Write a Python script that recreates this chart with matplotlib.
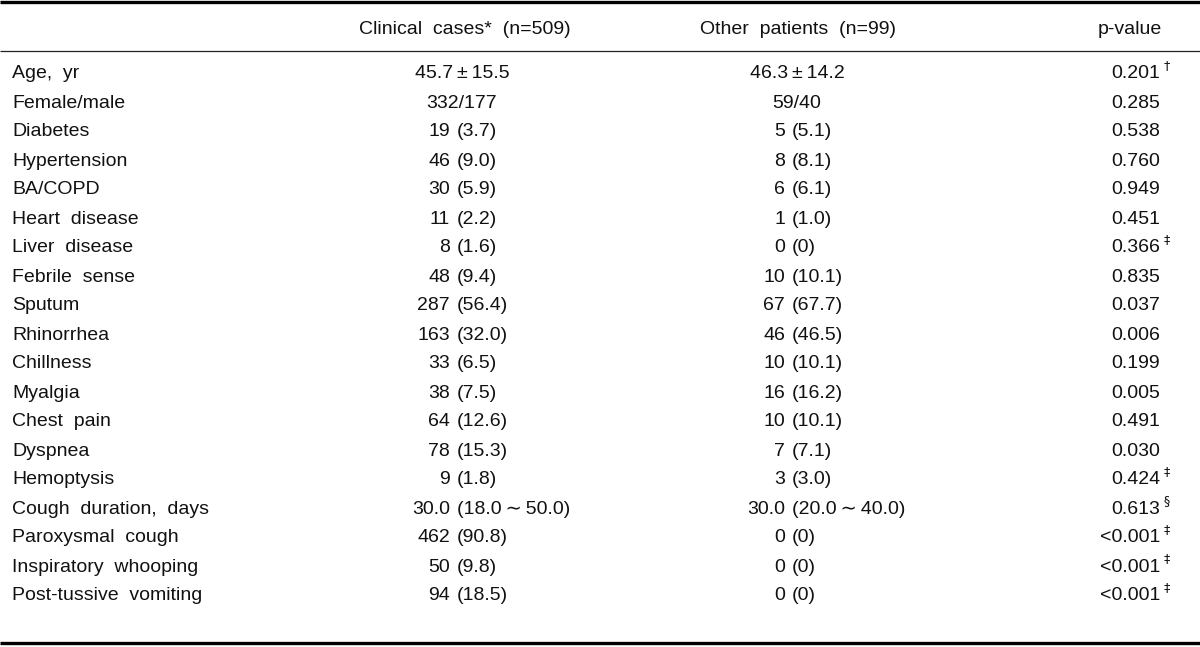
import matplotlib
matplotlib.use('Agg')
from matplotlib import pyplot as plt

plt.rcParams['font.family'] = ['Liberation Sans', 'DejaVu Sans']

headers = ['Clinical  cases*  (n=509)', 'Other  patients  (n=99)', 'p-value']

row_labels = ['Age,  yr', 'Female/male', 'Diabetes', 'Hypertension', 'BA/COPD',
              'Heart  disease', 'Liver  disease', 'Febrile  sense', 'Sputum',
              'Rhinorrhea', 'Chillness', 'Myalgia', 'Chest  pain', 'Dyspnea',
              'Hemoptysis', 'Cough  duration,  days', 'Paroxysmal  cough',
              'Inspiratory  whooping', 'Post-tussive  vomiting']

# value before the bracket / value in the bracket ('' = single centred value)
clinical_main = ['45.7\u2009\u00b1\u200915.5', '332/177', '19', '46', '30', '11', '8', '48',
                 '287', '163', '33', '38', '64', '78', '9', '30.0', '462', '50', '94']
clinical_paren = ['', '', '(3.7)', '(9.0)', '(5.9)', '(2.2)', '(1.6)', '(9.4)',
                  '(56.4)', '(32.0)', '(6.5)', '(7.5)', '(12.6)', '(15.3)', '(1.8)',
                  '(18.0\u2009\u223c\u200950.0)', '(90.8)', '(9.8)', '(18.5)']
other_main = ['46.3\u2009\u00b1\u200914.2', '59/40', '5', '8', '6', '1', '0', '10', '67', '46',
              '10', '16', '10', '7', '3', '30.0', '0', '0', '0']
other_paren = ['', '', '(5.1)', '(8.1)', '(6.1)', '(1.0)', '(0)', '(10.1)', '(67.7)',
               '(46.5)', '(10.1)', '(16.2)', '(10.1)', '(7.1)', '(3.0)',
               '(20.0\u2009\u223c\u200940.0)', '(0)', '(0)', '(0)']
p_values = ['0.201', '0.285', '0.538', '0.760', '0.949', '0.451', '0.366', '0.835',
            '0.037', '0.006', '0.199', '0.005', '0.491', '0.030', '0.424', '0.613',
            '<0.001', '<0.001', '<0.001']
p_marks = ['\u2020', '', '', '', '', '', '\u2021', '', '', '', '', '', '', '', '\u2021',
           '\u00a7', '\u2021', '\u2021', '\u2021']

fig = plt.figure(figsize=(12, 6.47), dpi=100)
ax = fig.add_axes([0, 0, 1, 1])
ax.set_xlim(0, 1200)
ax.set_ylim(647, 0)
ax.axis('off')

fs = 14
col = '#111111'

# rules
ax.plot([0, 1200], [2, 2], color='black', lw=2.4, solid_capstyle='butt')
ax.plot([0, 1200], [51, 51], color='#222222', lw=0.9, solid_capstyle='butt')
ax.plot([0, 1200], [643, 643], color='black', lw=2.4, solid_capstyle='butt')

# header
hy = 29
ax.text(465, hy, headers[0], ha='center', va='center', fontsize=fs, color=col)
ax.text(798, hy, headers[1], ha='center', va='center', fontsize=fs, color=col)
ax.text(1162, hy, headers[2], ha='right', va='center', fontsize=fs, color=col)

y0 = 74
dy = 29.0
for i, lab in enumerate(row_labels):
    y = y0 + i * dy
    ax.text(12, y, lab, ha='left', va='center', fontsize=fs, color=col)
    for main, paren, xc, xs in [(clinical_main[i], clinical_paren[i], 462, 450),
                                (other_main[i], other_paren[i], 797, 785)]:
        if paren == '':
            ax.text(xc, y, main, ha='center', va='center', fontsize=fs, color=col)
        else:
            ax.text(xs, y, main, ha='right', va='center', fontsize=fs, color=col)
            ax.text(xs + 7, y, paren, ha='left', va='center', fontsize=fs, color=col)
    ax.text(1160, y, p_values[i], ha='right', va='center', fontsize=fs, color=col)
    if p_marks[i]:
        ax.text(1164, y - 8, p_marks[i], ha='left', va='center', fontsize=9,
                color=col, family=['DejaVu Sans'])

fig.savefig('out.png', dpi=100)
plt.close(fig)
